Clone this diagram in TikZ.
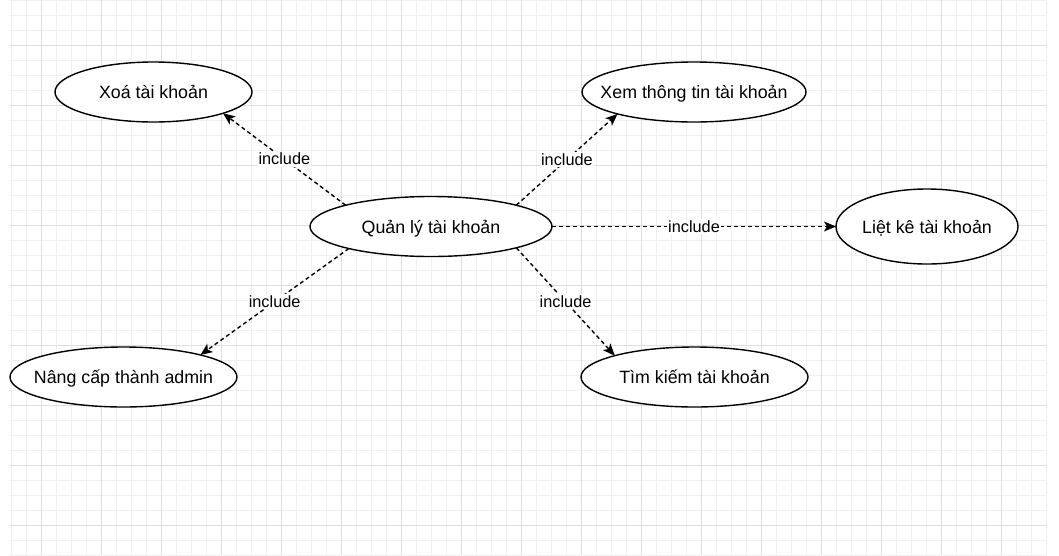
\documentclass[tikz,border=0pt]{standalone}
\usepackage{fontspec}
\setmainfont{Liberation Sans}
\usetikzlibrary{shapes.geometric,arrows.meta}
\begin{document}
\begin{tikzpicture}[x=1pt,y=-1pt,
  gridminor/.style={draw=black!6, line width=0.8pt},
  gridmajor/.style={draw=black!13, line width=1pt},
  uc/.style={ellipse, draw=black, line width=1.4pt, fill=white, inner sep=0pt, outer sep=0pt},
  ut/.style={font=\fontsize{17.8}{20}\selectfont, text height=13.5pt, text depth=0.5pt, inner sep=0pt},
  inc/.style={draw=black, line width=1.4pt, dash pattern=on 4pt off 3pt, -{Stealth[length=12pt,width=10pt,inset=3pt]}},
  lbl/.style={fill=white, font=\fontsize{16.3}{18}\selectfont, text height=12pt, text depth=1pt, inner sep=1pt}]
\useasboundingbox (0,0) rectangle (1059,555);
\fill[white] (0,0) rectangle (1059,555);
% grid
\foreach \x in {11,26,...,1046} \draw[gridminor] (\x,0) -- (\x,555);
\foreach \y in {0,15,...,555} \draw[gridminor] (9,\y) -- (1047,\y);
\foreach \x in {41,101,...,1001} \draw[gridmajor] (\x,0) -- (\x,555);
\foreach \y in {45,105,...,525} \draw[gridmajor] (9,\y) -- (1047,\y);
% use cases
\node[uc, minimum width=197pt, minimum height=60pt] (xoa) at (153.5,92) {};
\node[uc, minimum width=224pt, minimum height=60pt] (xem) at (694,92) {};
\node[uc, minimum width=242pt, minimum height=60pt] (ql) at (431,226.5) {};
\node[uc, minimum width=182pt, minimum height=75pt] (lk) at (927,226.5) {};
\node[uc, minimum width=227pt, minimum height=60pt] (nc) at (123.5,377) {};
\node[uc, minimum width=227pt, minimum height=60pt] (tk) at (694.5,377) {};
\node[ut] (xoaT) at (xoa) {Xoá tài khoản};
\node[ut] (xemT) at (xem) {Xem thông tin tài khoản};
\node[ut] (qlT) at (ql) {Quản lý tài khoản};
\node[ut] (lkT) at (lk) {Liệt kê tài khoản};
\node[ut] (ncT) at (nc) {Nâng cấp thành admin};
\node[ut] (tkT) at (tk) {Tìm kiếm tài khoản};
% include relations
\draw[inc] (ql.166) -- node[lbl] (l1) {include} (xoa.-17);
\draw[inc] (ql.14) -- node[lbl] (l2) {include} (xem.196);
\draw[inc] (ql.east) -- node[lbl] (l3) {include} (lk.west);
\draw[inc] (ql.195) -- node[lbl] (l4) {include} (nc.16);
\draw[inc] (ql.-14) -- node[lbl] (l5) {include} (tk.165);
\end{tikzpicture}
\end{document}
